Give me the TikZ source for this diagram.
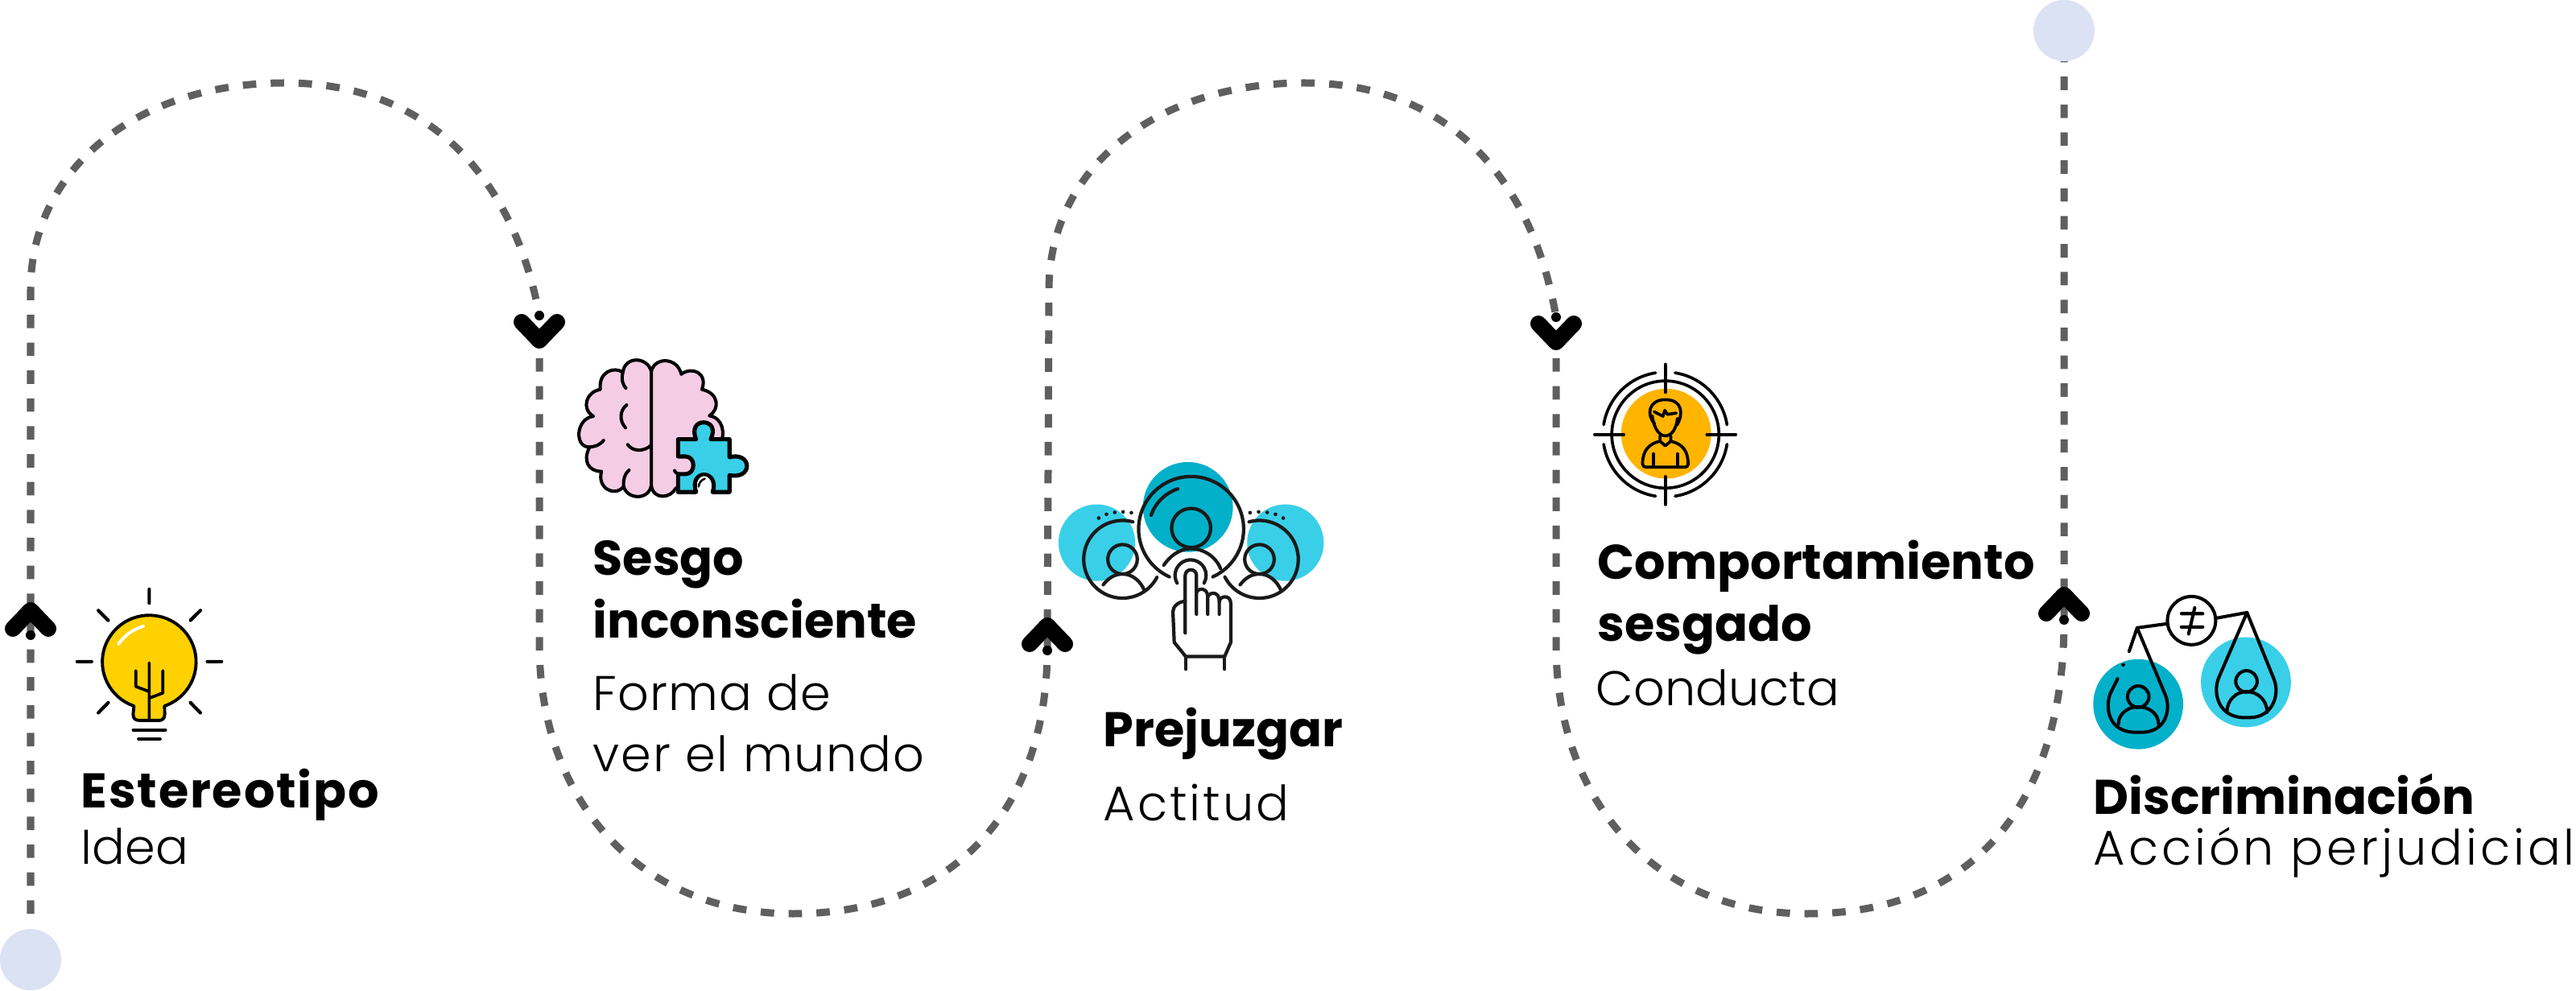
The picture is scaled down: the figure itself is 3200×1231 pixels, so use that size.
\documentclass[tikz,border=0pt]{standalone}
\usepackage{fontspec}
\setmainfont{Poppins}
\newfontfamily\lightf{Poppins Light}
\definecolor{dashc}{HTML}{5F5F5F}
\definecolor{dotc}{HTML}{DBE2F3}
\definecolor{bulbc}{HTML}{FFD100}
\definecolor{pinkc}{HTML}{F4CDE5}
\definecolor{cyanc}{HTML}{39CFE8}
\definecolor{tealc}{HTML}{03B0CA}
\definecolor{orangec}{HTML}{FFB400}
\definecolor{inkc}{HTML}{1A1A1A}
\tikzset{
  dashline/.style={draw=dashc,line width=2.56pt,dash pattern=on 4.75pt off 5.1pt},
  endball/.style={circle,fill=dotc,minimum size=0.76cm,inner sep=0pt},
  ico/.style={draw=black,line width=1.05pt,line cap=round,line join=round},
  icothick/.style={draw=black,line width=1.25pt,line cap=round,line join=round},
  head/.style={anchor=base west,inner sep=0pt,font=\fontsize{17.2pt}{20pt}\selectfont\bfseries},
  body/.style={anchor=base west,inner sep=0pt,font=\fontsize{17.2pt}{20pt}\selectfont\lightf},
  zoomA/.style={shift={(#1)},x=0.003333cm,y=-0.003333cm}
}
\newcommand{\ls}[1]{\addfontfeature{LetterSpace=#1}}
\newcommand{\chev}[3]{%
  \begin{scope}[shift={(#1,#2)},yscale=#3]
    \draw[line width=5.7pt,line cap=round,line join=round] (-22,-8) -- (0,-31) -- (22,-8);
    \fill (0,0) circle[radius=6];
  \end{scope}}
\newcommand{\arcc}[5]{([shift={(#4:#3)}]#1,#2) arc[start angle=#4,end angle=#5,radius=#3]}
\begin{document}
\begin{tikzpicture}[x=0.01cm,y=-0.01cm]
\useasboundingbox (0,0) rectangle (3200,1231);
% path anchors
\coordinate (ini) at (38,1192);
\coordinate (fin) at (2564,38);
\coordinate (a1) at (38,1135);
\coordinate (a2) at (38,360);
\coordinate (top1) at (354,103);
\coordinate (d2) at (670,392);
\coordinate (b2) at (670,445);
\coordinate (c2) at (670,800);
\coordinate (low1) at (985,1135);
\coordinate (d3) at (1301,808);
\coordinate (a3) at (1303,360);
\coordinate (top2) at (1620,103);
\coordinate (d4) at (1933,394);
\coordinate (b4) at (1933,445);
\coordinate (c4) at (1933,800);
\coordinate (low2) at (2245,1135);
\coordinate (d5) at (2564,770);
\draw[dashline] (a1) -- (a2) .. controls (38,210) and (170,103) .. (top1) .. controls (540,103) and (640,230) .. (d2);
\draw[dashline] (b2) -- (c2) .. controls (670,1000) and (800,1135) .. (low1) .. controls (1190,1135) and (1300,1000) .. (d3) -- (a3) .. controls (1303,210) and (1435,103) .. (top2) .. controls (1805,103) and (1905,230) .. (d4);
\draw[dashline] (b4) -- (c4) .. controls (1933,1000) and (2060,1135) .. (low2) .. controls (2450,1135) and (2564,1000) .. (d5) -- (fin);
\node[endball] (inib) at (ini) {};
\node[endball] (finb) at (fin) {};
\chev{38}{789}{1}
\chev{670}{392}{-1}
\chev{1301}{808}{1}
\chev{1933}{394}{-1}
\chev{2564}{770}{1}

% bulb
\begin{scope}[shift={(0,680)},x=0.003333cm,y=-0.003514cm]
\draw[ico,fill=bulbc,line width=1.1pt] (500,561) arc[start angle=109,end angle=431,x radius=175,y radius=165] -- (615,590) .. controls (615,605) and (605,612) .. (595,612) -- (520,612) .. controls (505,612) and (497,605) .. (497,590) -- cycle;
\draw[white,line width=1.1pt,line cap=round] (442,342) .. controls (470,305) and (500,290) .. (536,278);
\draw[ico] (557,408) -- (557,608) (507,436) -- (507,492) -- (557,510) (608,436) -- (608,515) -- (557,533);
\draw[ico] (497,646) -- (618,646) (517,677) -- (598,677);
\draw[ico,line width=1.2pt] (557,148) -- (557,197) (288,404) -- (342,404) (774,404) -- (827,404)
  (367,223) -- (404,258) (748,223) -- (711,258) (367,585) -- (404,549) (748,585) -- (711,549);
\end{scope}

% brain
\begin{scope}[zoomA={620,340}]
\draw[ico,fill=pinkc,line width=1.15pt] (568,365) .. controls (555,310) and (470,305) .. (462,368)
  .. controls (430,345) and (370,365) .. (378,432)
  .. controls (325,440) and (305,505) .. (352,532)
  .. controls (285,540) and (280,650) .. (338,647)
  .. controls (310,700) and (335,738) .. (382,738)
  .. controls (365,800) and (430,835) .. (465,795)
  .. controls (480,845) and (560,845) .. (568,790) -- cycle;
\fill[pinkc] (568,365) .. controls (580,310) and (665,310) .. (680,375)
  .. controls (720,345) and (780,370) .. (757,432)
  .. controls (820,445) and (825,505) .. (785,530)
  .. controls (840,540) and (840,600) .. (830,625) -- (720,760) -- (660,800)
  .. controls (640,840) and (575,845) .. (568,790) -- cycle;
\draw[ico,line width=1.15pt] (568,790) -- (568,365) .. controls (580,310) and (665,310) .. (680,375)
  .. controls (720,345) and (780,370) .. (757,432)
  .. controls (820,445) and (825,505) .. (785,530)
  .. controls (840,540) and (840,600) .. (830,625);
\draw[ico,line width=1.15pt] (660,800) .. controls (640,840) and (575,845) .. (568,790);
\draw[ico,line width=1.15pt] (462,368) .. controls (455,395) and (462,415) .. (473,427)
 (476,490) .. controls (450,510) and (448,550) .. (472,575)
 (480,638) .. controls (500,665) and (540,665) .. (568,640)
 (390,622) .. controls (375,640) and (360,645) .. (338,647)
 (465,795) .. controls (462,770) and (470,745) .. (485,733)
 (655,735) .. controls (660,745) and (665,745) .. (672,748);
\draw[icothick,fill=cyanc,line width=1.45pt] (668,618) -- (735,618) .. controls (720,580) and (735,555) .. (763,555) .. controls (792,555) and (808,580) .. (790,618) -- (860,618) -- (860,685) .. controls (895,675) and (925,690) .. (925,718) .. controls (925,745) and (895,760) .. (860,752) -- (860,815) -- (797,815) .. controls (810,775) and (790,750) .. (765,750) .. controls (740,750) and (722,775) .. (735,815) -- (668,815) -- (668,748) -- (695,748) .. controls (735,748) and (735,682) .. (695,682) -- (668,682) -- cycle;
\fill[white] (743,810) .. controls (735,775) and (745,757) .. (765,755) .. controls (785,757) and (797,775) .. (790,810) -- cycle;
\draw[ico,line width=0.7pt] (745,795) .. controls (745,780) and (755,770) .. (768,765);
\end{scope}

% prejuzgar
\begin{scope}[zoomA={1260,540}]
\fill[cyanc] (308,403) circle[radius=143] (1012,403) circle[radius=143];
\fill[tealc] (648,270) circle[radius=168];
\begin{scope}[ico,draw=inkc,line width=1.2pt]
\draw \arcc{404}{465}{145}{-74.5}{-332.4};
\draw \arcc{915}{465}{145}{254.5}{513};
\draw \arcc{660}{352}{196}{114.4}{425.6};
\draw \arcc{660}{352}{158}{199}{251.5};
\draw (660,348) circle[radius=73];
\draw (404,465) circle[radius=55] (915,465) circle[radius=55];
\draw (558,487) .. controls (590,440) and (630,425) .. (660,425) .. controls (700,425) and (750,450) .. (770,500);
\draw (332,560) .. controls (355,530) and (380,520) .. (404,520) .. controls (440,520) and (470,545) .. (485,580);
\draw (843,560) .. controls (866,530) and (890,520) .. (915,520) .. controls (950,520) and (980,545) .. (995,580);
\draw \arcc{658}{525}{58}{150}{390};
\draw (638,740) -- (638,525) arc[start angle=180,end angle=360,radius=21] -- (680,670);
\draw (680,590) .. controls (685,570) and (722,570) .. (722,605) -- (722,670);
\draw (722,605) .. controls (730,585) and (765,585) .. (765,620) -- (765,670);
\draw (765,625) .. controls (765,600) and (808,595) .. (808,630) -- (808,775) -- (785,828) -- (640,828) -- (597,775) -- (592,660) .. controls (592,640) and (615,622) .. (638,622);
\draw (640,828) -- (640,875) (785,828) -- (785,875);
\end{scope}
\fill[inkc] (315,311) circle[radius=7] (344,297) circle[radius=7] (375,290) circle[radius=7] (406,288) circle[radius=7] (437,291) circle[radius=7] (880,291) circle[radius=7] (912,288) circle[radius=7] (944,290) circle[radius=7] (975,297) circle[radius=7] (1004,311) circle[radius=7];
\end{scope}

% target
\begin{scope}[zoomA={1900,360}]
\fill[orangec] (510,537) circle[radius=168];
\draw[ico] (507,540) circle[radius=200];
\draw[ico] \arcc{507}{540}{233}{189}{261};
\draw[ico] \arcc{507}{540}{233}{279}{351};
\draw[ico] \arcc{507}{540}{233}{9}{81};
\draw[ico] \arcc{507}{540}{233}{99}{171};
\draw[ico] (507,278) -- (507,383) (507,697) -- (507,802) (243,540) -- (352,540) (662,540) -- (770,540);
\draw[ico] (467,500) .. controls (435,465) and (445,410) .. (507,410) .. controls (572,410) and (575,465) .. (550,505);
\draw[ico] (458,470) .. controls (465,520) and (485,545) .. (507,545) .. controls (530,545) and (548,520) .. (552,480);
\draw[ico] (465,455) -- (498,472) -- (505,450) -- (515,465) -- (548,460);
\draw[ico] (487,545) -- (487,565) -- (507,582) -- (527,565) -- (527,545);
\draw[ico] (487,565) .. controls (445,575) and (422,600) .. (422,650) .. controls (422,658) and (428,662) .. (434,662) -- (580,662) .. controls (588,662) and (592,658) .. (592,650) .. controls (592,600) and (570,575) .. (527,565);
\draw[ico] (462,612) -- (462,660) (552,612) -- (552,660);
\end{scope}

% balance
\begin{scope}[zoomA={2540,700}]
\fill[tealc] (349,525) circle[radius=168];
\fill[cyanc] (751,443) circle[radius=168];
\draw[ico,line width=1.15pt] (548,213) circle[radius=90];
\draw[ico,line width=1.15pt] (455,225) -- (345,240) -- (315,328);
\draw[ico,line width=1.15pt] (645,203) -- (755,183);
\draw[ico,line width=1.15pt] (510,187) -- (590,187) (510,237) -- (590,237) (560,165) -- (537,263);
\fill (293,378) circle[radius=7];
\draw[ico,line width=1.15pt] (272,430) -- (245,485) .. controls (225,535) and (235,630) .. (340,630) -- (360,630) .. controls (460,630) and (470,535) .. (450,490) -- (345,240);
\draw[ico,line width=1.15pt] (755,183) -- (650,425) .. controls (625,485) and (650,575) .. (745,575) -- (765,575) .. controls (850,575) and (880,490) .. (855,430) -- cycle;
\draw[ico,line width=1.15pt] (349,497) circle[radius=40] (753,440) circle[radius=40];
\draw[ico,line width=1.15pt] (275,600) .. controls (275,560) and (310,535) .. (349,535) .. controls (390,535) and (425,560) .. (425,600);
\draw[ico,line width=1.15pt] (680,555) .. controls (680,510) and (715,478) .. (753,478) .. controls (795,478) and (830,510) .. (830,555);
\end{scope}

% labels
\node[head] (t1) at (100,1003) {\ls{3}Estereotipo};
\node[body] (t1b) at (100,1073) {Idea};
\node[head] (t2) at (736,715) {Sesgo};
\node[head] (t2a) at (736,792) {inconsciente};
\node[body] (t2b) at (736,882) {\ls{2}Forma de};
\node[body] (t2c) at (736,958) {\ls{3}ver el mundo};
\node[head] (t3) at (1370,927) {Prejuzgar};
\node[body] (t3b) at (1370,1019) {\ls{5}Actitud};
\node[head] (t4) at (1984,719) {Comportamiento};
\node[head] (t4a) at (1984,797) {sesgado};
\node[body] (t4b) at (1982,876) {Conducta};
\node[head] (t5) at (2600,1011) {Discriminación};
\node[body] (t5b) at (2600,1074) {\ls{6.6}Acción perjudicial};
\end{tikzpicture}
\end{document}
